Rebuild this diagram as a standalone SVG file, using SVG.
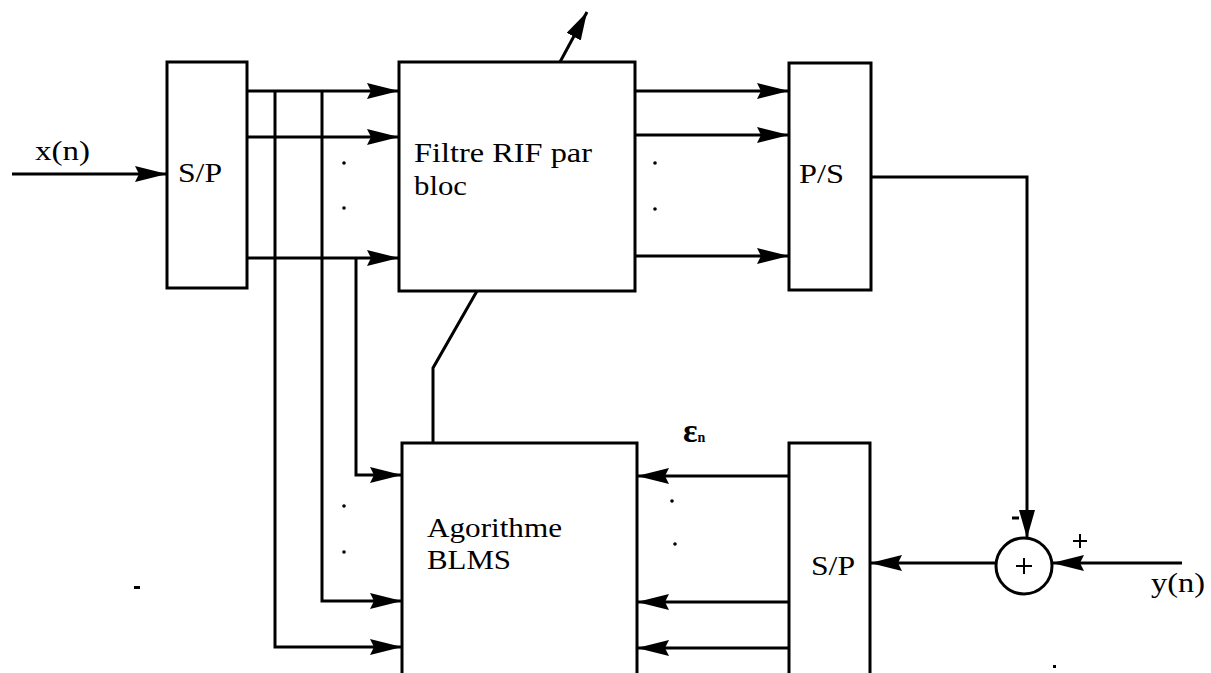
<svg xmlns="http://www.w3.org/2000/svg" width="1211" height="673" viewBox="0 0 1211 673">
<style>
.box{fill:#fff;stroke:#000;stroke-width:3}
.ln{fill:none;stroke:#000;stroke-width:3;stroke-linejoin:miter}
.arr{fill:none;stroke:#000;stroke-width:3;marker-end:url(#ah)}
.t{font-family:"Liberation Serif","Times New Roman",serif;font-size:28px;fill:#000}
.dot{fill:#000}
</style>
<defs>
<marker id="ah" viewBox="0 0 32 16" refX="32" refY="8" markerWidth="32" markerHeight="16" markerUnits="userSpaceOnUse" orient="auto">
<path d="M0,0 L32,8 L0,16 L4,8 Z" fill="#000"/>
</marker>
<marker id="ahs" viewBox="0 0 28 16" refX="28" refY="8" markerWidth="28" markerHeight="16" markerUnits="userSpaceOnUse" orient="auto">
<path d="M0,0 L28,8 L0,16 Z" fill="#000"/>
</marker>
</defs>
<rect width="1211" height="673" fill="#fff"/>

<g id="connectors">
<path class="arr" d="M12,174 H167"/>
<path class="arr" d="M247,91 H399"/>
<path class="arr" d="M242,137 H399"/>
<path class="arr" d="M247,258 H399"/>
<path class="arr" d="M275,91 V647 H402"/>
<path class="arr" d="M322,91 V601 H402"/>
<path class="arr" d="M356,258 V475 H402"/>
<path class="arr" d="M635,91 H789"/>
<path class="arr" d="M635,135 H789"/>
<path class="arr" d="M635,256 H789"/>
<path class="ln" d="M560,62 L587,12" marker-end="url(#ahs)"/>
<path class="ln" d="M477,291 L433,368 V443"/>
<path class="ln" d="M871,177 H1027 V538" marker-end="url(#ahs)"/>
<path class="arr" d="M1182,563 H1052"/>
<path class="arr" d="M996,563 H870"/>
<path class="arr" d="M789,476 H637"/>
<path class="arr" d="M789,602 H637"/>
<path class="arr" d="M789,648 H637"/>
</g>

<g id="dots">
<circle class="dot" cx="344" cy="163" r="1.8"/>
<circle class="dot" cx="344" cy="208" r="1.8"/>
<circle class="dot" cx="655" cy="163" r="1.8"/>
<circle class="dot" cx="655" cy="209" r="1.8"/>
<circle class="dot" cx="344" cy="506" r="1.8"/>
<circle class="dot" cx="344" cy="552" r="1.8"/>
<circle class="dot" cx="672" cy="501" r="1.8"/>
<circle class="dot" cx="675" cy="544" r="1.8"/>
<rect x="134" y="586" width="6" height="3"/>
<rect x="1053" y="665" width="3" height="3"/>
</g>

<g id="input-label">
<text class="t" x="35" y="160" textLength="55" lengthAdjust="spacingAndGlyphs">x(n)</text>
</g>

<g id="sp-top">
<rect class="box" x="167" y="62" width="80" height="226"/>
<text class="t" x="178" y="182" textLength="44" lengthAdjust="spacingAndGlyphs">S/P</text>
</g>

<g id="filtre">
<rect class="box" x="399" y="62" width="236" height="229"/>
<text class="t" x="414" y="162" textLength="178" lengthAdjust="spacingAndGlyphs">Filtre RIF par</text>
<text class="t" x="414" y="195" textLength="53" lengthAdjust="spacingAndGlyphs">bloc</text>
</g>

<g id="ps">
<rect class="box" x="789" y="63" width="82" height="227"/>
<text class="t" x="799" y="183" textLength="45" lengthAdjust="spacingAndGlyphs">P/S</text>
</g>

<g id="blms">
<path class="box" d="M402,676 V443 H637 V676"/>
<text class="t" x="427" y="537" textLength="135" lengthAdjust="spacingAndGlyphs">Agorithme</text>
<text class="t" x="427" y="569" textLength="84" lengthAdjust="spacingAndGlyphs">BLMS</text>
</g>

<g id="sp-bottom">
<path class="box" d="M789,676 V443 H870 V676"/>
<text class="t" x="811" y="575" textLength="44" lengthAdjust="spacingAndGlyphs">S/P</text>
</g>

<g id="error-label">
<text x="683" y="442" style="font-family:'Liberation Serif',serif;font-size:34px;font-weight:bold">ε<tspan style="font-size:14px">n</tspan></text>
</g>

<g id="summer">
<circle cx="1024" cy="566" r="28" fill="#fff" stroke="#000" stroke-width="3"/>
<path d="M1024,558 V574 M1016,566 H1032" stroke="#000" stroke-width="2"/>
<path d="M1012,518 H1019" stroke="#000" stroke-width="3"/>
<path d="M1080,534 V548 M1073,541 H1087" stroke="#000" stroke-width="2"/>
</g>

<g id="output-label">
<text class="t" x="1151" y="592" textLength="54" lengthAdjust="spacingAndGlyphs">y(n)</text>
</g>
</svg>
